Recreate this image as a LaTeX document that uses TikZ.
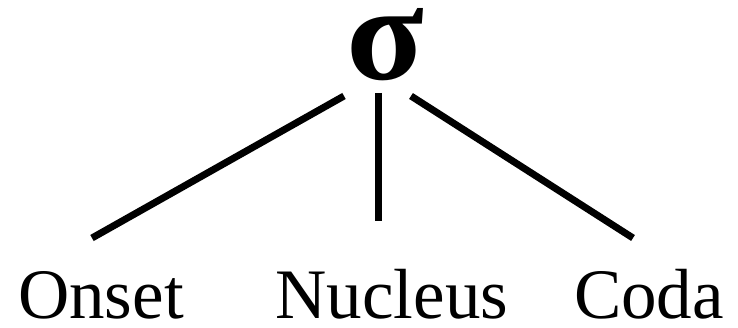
\documentclass[tikz,border=0pt]{standalone}
\usepackage{fontspec}
\setmainfont{Liberation Serif}
\begin{document}
\begin{tikzpicture}[x=1pt,y=-1pt,
  lbl/.style={anchor=base,inner sep=0pt,text height=48pt,text depth=0pt,font=\fontsize{71}{80}\selectfont},
  sig/.style={anchor=base,inner sep=0pt,text height=68pt,text depth=0pt,font=\fontsize{130}{140}\selectfont\bfseries,xscale=1.1,yscale=1.05},
  edge/.style={line width=7pt}]
\useasboundingbox (0,0) rectangle (738,328);
\node[sig] (s) at (385,80) {σ};
\node[lbl] (on) at (101,318) {Onset};
\node[lbl] (nu) at (392,318) {Nucleus};
\node[lbl] (co) at (649,318) {Coda};
\coordinate (sl) at (344,96);
\coordinate (sm) at (378,93);
\coordinate (sr) at (411,96);
\coordinate (ol) at (92,238);
\coordinate (nm) at (378,221);
\coordinate (cr) at (633,238);
\draw[edge] (sl) -- (ol);
\draw[edge] (sm) -- (nm);
\draw[edge] (sr) -- (cr);
\end{tikzpicture}
\end{document}
